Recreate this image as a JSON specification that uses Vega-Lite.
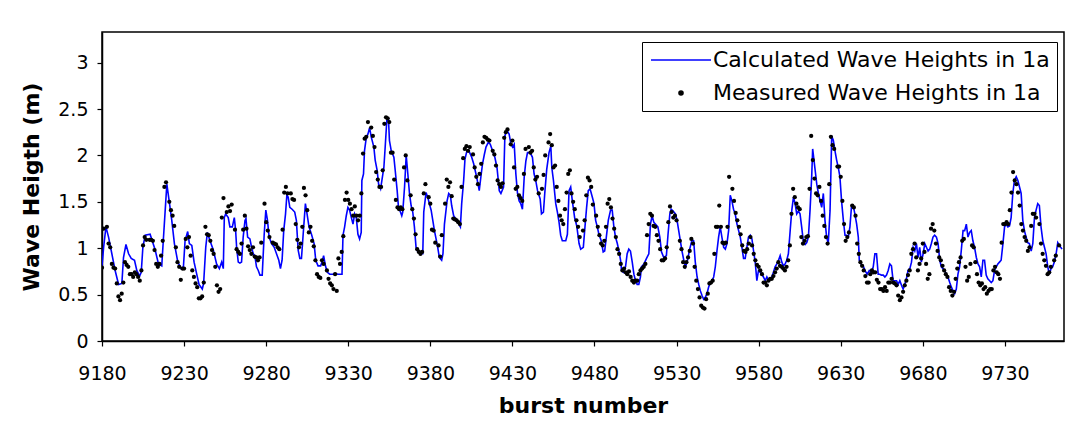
{
"$schema": "https://vega.github.io/schema/vega-lite/v6.json",
"autosize": {"type": "none"},
"padding": {"left": 102, "top": 32, "right": 19, "bottom": 86},
"width": 962,
"height": 309,
"background": "white",
"datasets": {
"calculated": [
{"burst":9180,"height":0.81},{"burst":9181,"height":1.01},{"burst":9182.4,"height":1.23},{"burst":9184,"height":1.12},{"burst":9186,"height":0.94},{"burst":9188,"height":0.76},{"burst":9190.1,"height":0.61},{"burst":9192.1,"height":0.62},{"burst":9193.1,"height":0.9},{"burst":9194.6,"height":1.04},{"burst":9196.2,"height":0.94},{"burst":9197.8,"height":0.89},{"burst":9199.8,"height":0.87},{"burst":9201.2,"height":0.76},{"burst":9202.9,"height":0.7},{"burst":9203.9,"height":0.74},{"burst":9204.9,"height":1.01},{"burst":9206.3,"height":1.14},{"burst":9209.3,"height":1.15},{"burst":9212.4,"height":0.98},{"burst":9214.4,"height":0.83},{"burst":9216.4,"height":0.81},{"burst":9217.4,"height":1.1},{"burst":9218.5,"height":1.41},{"burst":9219.5,"height":1.69},{"burst":9220.9,"height":1.51},{"burst":9222.5,"height":1.3},{"burst":9224.1,"height":1.05},{"burst":9226.2,"height":0.85},{"burst":9228.2,"height":0.78},{"burst":9229.6,"height":0.8},{"burst":9230.6,"height":1.08},{"burst":9232.2,"height":1.18},{"burst":9233.2,"height":1.05},{"burst":9234.7,"height":1.03},{"burst":9236.1,"height":0.85},{"burst":9237.7,"height":0.72},{"burst":9239.1,"height":0.61},{"burst":9241.1,"height":0.56},{"burst":9241.9,"height":0.62},{"burst":9243.2,"height":1.01},{"burst":9244.2,"height":1.17},{"burst":9245.8,"height":1.08},{"burst":9247.8,"height":0.98},{"burst":9249.8,"height":0.83},{"burst":9251.5,"height":0.78},{"burst":9252.9,"height":0.85},{"burst":9253.9,"height":0.78},{"burst":9254.5,"height":1.33},{"burst":9255.3,"height":1.37},{"burst":9256.9,"height":1.33},{"burst":9257.9,"height":1.23},{"burst":9259.4,"height":1.23},{"burst":9260.6,"height":1.33},{"burst":9261.4,"height":1.19},{"burst":9262,"height":1.01},{"burst":9263,"height":0.85},{"burst":9264,"height":0.84},{"burst":9265,"height":0.85},{"burst":9266,"height":1.12},{"burst":9267.1,"height":1.3},{"burst":9267.7,"height":1.32},{"burst":9268.7,"height":1.12},{"burst":9270.1,"height":1.1},{"burst":9271.1,"height":1.01},{"burst":9272.1,"height":0.94},{"burst":9273.1,"height":0.92},{"burst":9274.1,"height":0.8},{"burst":9275.2,"height":0.76},{"burst":9276.2,"height":0.71},{"burst":9277.6,"height":0.71},{"burst":9278.8,"height":1.15},{"burst":9279.8,"height":1.41},{"burst":9280.8,"height":1.3},{"burst":9281.8,"height":1.12},{"burst":9283.3,"height":1.05},{"burst":9284.9,"height":1.01},{"burst":9286.3,"height":0.94},{"burst":9287.7,"height":0.87},{"burst":9288.7,"height":0.78},{"burst":9289.7,"height":0.87},{"burst":9290.7,"height":1.19},{"burst":9291.8,"height":1.37},{"burst":9292.6,"height":1.57},{"burst":9293.4,"height":1.55},{"burst":9294.4,"height":1.44},{"burst":9295.8,"height":1.42},{"burst":9297.4,"height":1.39},{"burst":9298.4,"height":1.3},{"burst":9299.5,"height":0.98},{"burst":9300.5,"height":0.89},{"burst":9301.5,"height":0.89},{"burst":9302.5,"height":1.14},{"burst":9303.9,"height":1.48},{"burst":9304.9,"height":1.37},{"burst":9306.1,"height":1.23},{"burst":9307.6,"height":1.15},{"burst":9309.2,"height":1.05},{"burst":9310.2,"height":0.87},{"burst":9311.6,"height":0.81},{"burst":9313.2,"height":0.81},{"burst":9314,"height":0.85},{"burst":9315,"height":0.92},{"burst":9316.1,"height":0.81},{"burst":9317.3,"height":0.74},{"burst":9318.7,"height":0.72},{"burst":9320.7,"height":0.72},{"burst":9321.7,"height":0.73},{"burst":9323.8,"height":0.72},{"burst":9326.2,"height":0.72},{"burst":9326.8,"height":1.14},{"burst":9327.8,"height":1.23},{"burst":9328.8,"height":1.35},{"burst":9329.8,"height":1.44},{"burst":9330.8,"height":1.41},{"burst":9331.9,"height":1.33},{"burst":9332.9,"height":1.26},{"burst":9333.9,"height":1.37},{"burst":9334.9,"height":1.33},{"burst":9335.9,"height":1.15},{"burst":9336.9,"height":1.1},{"burst":9337.9,"height":1.17},{"burst":9338.3,"height":1.73},{"burst":9339.3,"height":1.8},{"burst":9339.9,"height":2.05},{"burst":9340.9,"height":2.18},{"burst":9342,"height":2.23},{"burst":9343,"height":2.3},{"burst":9344,"height":2.2},{"burst":9345.6,"height":2.09},{"burst":9346.4,"height":1.95},{"burst":9347.6,"height":1.84},{"burst":9348.5,"height":1.69},{"burst":9349.7,"height":1.64},{"burst":9350.5,"height":1.73},{"burst":9351.7,"height":1.87},{"burst":9352.5,"height":2.09},{"burst":9353.5,"height":2.38},{"burst":9354.5,"height":2.39},{"burst":9355.1,"height":2.16},{"burst":9356.2,"height":2.05},{"burst":9357.8,"height":1.98},{"burst":9358.6,"height":1.84},{"burst":9359.8,"height":1.62},{"burst":9360.6,"height":1.44},{"burst":9361.8,"height":1.39},{"burst":9362.6,"height":1.35},{"burst":9363.2,"height":1.39},{"burst":9364.3,"height":1.66},{"burst":9365.3,"height":2.0},{"burst":9366.3,"height":1.8},{"burst":9367.3,"height":1.59},{"burst":9368.3,"height":1.46},{"burst":9369.3,"height":1.39},{"burst":9370.3,"height":1.23},{"burst":9371.3,"height":1.01},{"burst":9372.4,"height":0.96},{"burst":9374.4,"height":0.94},{"burst":9375.4,"height":0.94},{"burst":9376,"height":1.39},{"burst":9377.4,"height":1.6},{"burst":9378.4,"height":1.55},{"burst":9379.4,"height":1.48},{"burst":9380.5,"height":1.41},{"burst":9381.5,"height":1.3},{"burst":9382.5,"height":1.19},{"burst":9383.5,"height":1.1},{"burst":9384.5,"height":1.01},{"burst":9385.5,"height":0.9},{"burst":9386.9,"height":0.87},{"burst":9387.7,"height":0.94},{"burst":9388.6,"height":1.26},{"burst":9390.2,"height":1.51},{"burst":9391.2,"height":1.59},{"burst":9392.2,"height":1.57},{"burst":9393,"height":1.46},{"burst":9394.2,"height":1.35},{"burst":9396.2,"height":1.3},{"burst":9398.3,"height":1.23},{"burst":9399.1,"height":1.48},{"burst":9400.3,"height":1.73},{"burst":9401.1,"height":1.96},{"burst":9402.3,"height":2.05},{"burst":9403.7,"height":2.04},{"burst":9405.2,"height":1.98},{"burst":9406.4,"height":1.91},{"burst":9407.8,"height":1.8},{"burst":9409.2,"height":1.68},{"burst":9409.8,"height":1.62},{"burst":9410.8,"height":1.77},{"burst":9411.8,"height":1.91},{"burst":9412.9,"height":2.01},{"burst":9413.9,"height":2.09},{"burst":9415.3,"height":2.14},{"burst":9416.5,"height":2.12},{"burst":9417.9,"height":2.05},{"burst":9419.3,"height":1.98},{"burst":9420.6,"height":1.87},{"burst":9421.4,"height":1.73},{"burst":9422,"height":1.62},{"burst":9423,"height":1.59},{"burst":9424.6,"height":1.66},{"burst":9425.4,"height":2.21},{"burst":9426.6,"height":2.27},{"burst":9428,"height":2.23},{"burst":9429.1,"height":2.12},{"burst":9430.1,"height":2.09},{"burst":9431.1,"height":2.12},{"burst":9432.1,"height":1.8},{"burst":9433.1,"height":1.59},{"burst":9434.1,"height":1.51},{"burst":9435.1,"height":1.48},{"burst":9436.1,"height":1.42},{"burst":9437.2,"height":1.77},{"burst":9438.2,"height":1.94},{"burst":9439.2,"height":2.03},{"burst":9440.8,"height":2.03},{"burst":9442.2,"height":1.98},{"burst":9443.2,"height":1.8},{"burst":9444.2,"height":1.73},{"burst":9445.3,"height":1.62},{"burst":9446.9,"height":1.53},{"burst":9447.7,"height":1.37},{"burst":9448.9,"height":1.39},{"burst":9449.7,"height":1.59},{"burst":9450.9,"height":1.85},{"burst":9452.3,"height":2.03},{"burst":9453.4,"height":2.1},{"burst":9454,"height":1.87},{"burst":9455,"height":1.73},{"burst":9456.4,"height":1.48},{"burst":9457.4,"height":1.39},{"burst":9458.4,"height":1.28},{"burst":9459.4,"height":1.14},{"burst":9460.4,"height":1.08},{"burst":9462.5,"height":1.08},{"burst":9463.5,"height":1.15},{"burst":9464.5,"height":1.62},{"burst":9465.5,"height":1.66},{"burst":9466.5,"height":1.51},{"burst":9467.9,"height":1.33},{"burst":9469.2,"height":1.24},{"burst":9470.6,"height":1.05},{"burst":9471.6,"height":0.99},{"burst":9473.2,"height":1.01},{"burst":9474.2,"height":1.23},{"burst":9475.2,"height":1.44},{"burst":9476.2,"height":1.62},{"burst":9477.3,"height":1.64},{"burst":9478.7,"height":1.55},{"burst":9479.7,"height":1.48},{"burst":9480.7,"height":1.3},{"burst":9481.7,"height":1.23},{"burst":9482.7,"height":1.15},{"burst":9484.1,"height":1.08},{"burst":9485.3,"height":0.96},{"burst":9486.2,"height":0.97},{"burst":9487.2,"height":1.12},{"burst":9488.4,"height":1.3},{"burst":9489.8,"height":1.41},{"burst":9490.8,"height":1.41},{"burst":9491.8,"height":1.23},{"burst":9492.8,"height":1.12},{"burst":9493.9,"height":1.05},{"burst":9494.9,"height":0.97},{"burst":9495.9,"height":0.87},{"burst":9496.5,"height":0.76},{"burst":9497.5,"height":0.74},{"burst":9498.9,"height":0.8},{"burst":9499.9,"height":0.94},{"burst":9500.9,"height":0.99},{"burst":9501.9,"height":0.97},{"burst":9503,"height":0.85},{"burst":9504,"height":0.72},{"burst":9505,"height":0.65},{"burst":9506,"height":0.61},{"burst":9507,"height":0.61},{"burst":9508,"height":0.69},{"burst":9508.6,"height":0.8},{"burst":9510.1,"height":0.83},{"burst":9511.7,"height":0.89},{"burst":9513.1,"height":0.94},{"burst":9514.1,"height":1.26},{"burst":9515.1,"height":1.35},{"burst":9516.1,"height":1.28},{"burst":9517.1,"height":1.26},{"burst":9518.6,"height":1.23},{"burst":9519.8,"height":1.12},{"burst":9520.8,"height":0.96},{"burst":9522.2,"height":0.9},{"burst":9523.8,"height":0.92},{"burst":9524.8,"height":1.15},{"burst":9525.9,"height":1.37},{"burst":9526.7,"height":1.42},{"burst":9527.9,"height":1.4},{"burst":9529.3,"height":1.37},{"burst":9530.3,"height":1.3},{"burst":9531.3,"height":1.19},{"burst":9532.3,"height":1.08},{"burst":9533.3,"height":0.97},{"burst":9534.4,"height":0.87},{"burst":9535.4,"height":0.8},{"burst":9536.4,"height":0.85},{"burst":9538,"height":0.99},{"burst":9539.4,"height":1.09},{"burst":9540.4,"height":1.08},{"burst":9541.4,"height":0.85},{"burst":9542.5,"height":0.69},{"burst":9543.5,"height":0.61},{"burst":9544.5,"height":0.54},{"burst":9545.5,"height":0.49},{"burst":9546.5,"height":0.45},{"burst":9547.5,"height":0.47},{"burst":9548.5,"height":0.51},{"burst":9549.5,"height":0.58},{"burst":9550.6,"height":0.63},{"burst":9551.6,"height":0.65},{"burst":9552.6,"height":0.69},{"burst":9553.6,"height":0.8},{"burst":9554.6,"height":0.97},{"burst":9555.6,"height":1.12},{"burst":9556.6,"height":1.23},{"burst":9557.6,"height":1.12},{"burst":9558.7,"height":1.01},{"burst":9559.7,"height":0.99},{"burst":9560.7,"height":1.05},{"burst":9561.7,"height":1.19},{"burst":9562.7,"height":1.57},{"burst":9563.7,"height":1.51},{"burst":9564.7,"height":1.42},{"burst":9565.7,"height":1.37},{"burst":9566.8,"height":1.26},{"burst":9567.8,"height":1.19},{"burst":9568.8,"height":1.12},{"burst":9569.8,"height":1.01},{"burst":9570.8,"height":0.89},{"burst":9571.8,"height":0.89},{"burst":9572.8,"height":1.01},{"burst":9573.8,"height":1.12},{"burst":9574.9,"height":1.14},{"burst":9575.9,"height":1.1},{"burst":9576.9,"height":0.97},{"burst":9577.9,"height":0.85},{"burst":9578.9,"height":0.65},{"burst":9579.9,"height":0.76},{"burst":9580.9,"height":0.74},{"burst":9581.9,"height":0.72},{"burst":9582.9,"height":0.69},{"burst":9584,"height":0.65},{"burst":9585,"height":0.69},{"burst":9586,"height":0.65},{"burst":9587,"height":0.67},{"burst":9588,"height":0.69},{"burst":9589,"height":0.74},{"burst":9590,"height":0.8},{"burst":9591.1,"height":0.83},{"burst":9592.1,"height":0.87},{"burst":9593.1,"height":0.92},{"burst":9594.1,"height":0.85},{"burst":9595.1,"height":0.81},{"burst":9596.1,"height":0.83},{"burst":9597.1,"height":0.87},{"burst":9598.1,"height":0.94},{"burst":9599.2,"height":1.19},{"burst":9600.2,"height":1.41},{"burst":9601.2,"height":1.55},{"burst":9602.2,"height":1.48},{"burst":9603.2,"height":1.37},{"burst":9604.2,"height":1.4},{"burst":9605.2,"height":1.37},{"burst":9606.2,"height":1.23},{"burst":9607.3,"height":1.06},{"burst":9608.3,"height":1.04},{"burst":9609.3,"height":1.06},{"burst":9610.3,"height":1.12},{"burst":9611.3,"height":1.41},{"burst":9612.3,"height":1.77},{"burst":9612.9,"height":2.07},{"burst":9613.7,"height":1.95},{"burst":9615.4,"height":1.69},{"burst":9616.4,"height":1.59},{"burst":9617.4,"height":1.51},{"burst":9618.4,"height":1.44},{"burst":9619.4,"height":1.59},{"burst":9620.4,"height":1.3},{"burst":9621.4,"height":1.12},{"burst":9622.4,"height":1.05},{"burst":9623.5,"height":1.41},{"burst":9624.5,"height":2.21},{"burst":9625.5,"height":2.16},{"burst":9626.5,"height":2.05},{"burst":9627.5,"height":1.95},{"burst":9628.5,"height":1.87},{"burst":9629.5,"height":1.77},{"burst":9630.5,"height":1.51},{"burst":9631.6,"height":1.3},{"burst":9632.6,"height":1.14},{"burst":9633.6,"height":1.14},{"burst":9634.6,"height":1.12},{"burst":9635.6,"height":1.23},{"burst":9636.6,"height":1.46},{"burst":9637.6,"height":1.46},{"burst":9638.6,"height":1.37},{"burst":9639.7,"height":1.26},{"burst":9640.7,"height":1.12},{"burst":9641.3,"height":0.87},{"burst":9642.3,"height":0.83},{"burst":9643.7,"height":0.81},{"burst":9644.7,"height":0.76},{"burst":9646.1,"height":0.72},{"burst":9647.4,"height":0.76},{"burst":9648.8,"height":0.74},{"burst":9649.8,"height":0.8},{"burst":9650.8,"height":0.94},{"burst":9651.8,"height":0.94},{"burst":9652.8,"height":0.72},{"burst":9653.8,"height":0.72},{"burst":9654.8,"height":0.71},{"burst":9655.9,"height":0.71},{"burst":9656.9,"height":0.69},{"burst":9657.9,"height":0.71},{"burst":9658.9,"height":0.76},{"burst":9659.9,"height":0.83},{"burst":9660.9,"height":0.81},{"burst":9661.9,"height":0.65},{"burst":9662.9,"height":0.65},{"burst":9664,"height":0.65},{"burst":9665,"height":0.61},{"burst":9666,"height":0.65},{"burst":9667,"height":0.6},{"burst":9668,"height":0.56},{"burst":9669,"height":0.61},{"burst":9670,"height":0.67},{"burst":9671,"height":0.76},{"burst":9672.1,"height":0.78},{"burst":9673.1,"height":0.85},{"burst":9674.1,"height":1.01},{"burst":9675.1,"height":0.97},{"burst":9676.1,"height":1.05},{"burst":9677.1,"height":0.9},{"burst":9678.1,"height":1.01},{"burst":9679.1,"height":0.85},{"burst":9680.2,"height":0.94},{"burst":9681.2,"height":1.05},{"burst":9682.2,"height":1.01},{"burst":9683.2,"height":0.97},{"burst":9684.2,"height":0.99},{"burst":9685.2,"height":1.05},{"burst":9686.2,"height":1.12},{"burst":9687.2,"height":1.14},{"burst":9688.3,"height":1.12},{"burst":9689.3,"height":1.05},{"burst":9690.3,"height":0.87},{"burst":9691.3,"height":0.8},{"burst":9692.3,"height":0.78},{"burst":9693.3,"height":0.76},{"burst":9694.3,"height":0.72},{"burst":9695.3,"height":0.69},{"burst":9696.4,"height":0.63},{"burst":9697.4,"height":0.58},{"burst":9698.4,"height":0.54},{"burst":9699.4,"height":0.51},{"burst":9700.4,"height":0.56},{"burst":9701.4,"height":0.72},{"burst":9702.4,"height":0.8},{"burst":9703.4,"height":0.97},{"burst":9704.5,"height":1.19},{"burst":9705.5,"height":1.19},{"burst":9706.5,"height":1.26},{"burst":9707.5,"height":1.12},{"burst":9708.5,"height":1.17},{"burst":9709.5,"height":1.19},{"burst":9710.5,"height":1.08},{"burst":9711.5,"height":1.01},{"burst":9712.6,"height":0.9},{"burst":9713.6,"height":0.83},{"burst":9714.6,"height":0.8},{"burst":9715.6,"height":0.69},{"burst":9716.6,"height":0.87},{"burst":9717.6,"height":0.87},{"burst":9718.6,"height":0.71},{"burst":9719.6,"height":0.67},{"burst":9720.7,"height":0.65},{"burst":9721.7,"height":0.63},{"burst":9722.7,"height":0.65},{"burst":9723.7,"height":0.76},{"burst":9724.7,"height":0.8},{"burst":9725.7,"height":0.83},{"burst":9726.7,"height":0.85},{"burst":9727.7,"height":0.87},{"burst":9728.8,"height":1.05},{"burst":9729.8,"height":1.23},{"burst":9730.8,"height":1.26},{"burst":9731.8,"height":1.23},{"burst":9732.8,"height":1.24},{"burst":9733.8,"height":1.33},{"burst":9734.8,"height":1.59},{"burst":9735.8,"height":1.73},{"burst":9736.9,"height":1.77},{"burst":9737.9,"height":1.73},{"burst":9738.9,"height":1.66},{"burst":9739.9,"height":1.59},{"burst":9740.9,"height":1.3},{"burst":9741.9,"height":1.19},{"burst":9742.9,"height":1.12},{"burst":9743.9,"height":1.06},{"burst":9744.9,"height":1.05},{"burst":9746,"height":0.97},{"burst":9747,"height":1.05},{"burst":9748,"height":1.33},{"burst":9749,"height":1.41},{"burst":9750,"height":1.48},{"burst":9751,"height":1.46},{"burst":9752,"height":1.23},{"burst":9753.1,"height":1.08},{"burst":9754.1,"height":1.01},{"burst":9755.1,"height":0.94},{"burst":9756.1,"height":0.8},{"burst":9757.1,"height":0.72},{"burst":9758.1,"height":0.78},{"burst":9759.1,"height":0.8},{"burst":9760.1,"height":0.85},{"burst":9761.2,"height":0.94},{"burst":9762.2,"height":1.06},{"burst":9763.2,"height":1.03},{"burst":9764.8,"height":0.99}
],
"measured": [
{"burst":9180,"height":0.79},{"burst":9181,"height":1.21},{"burst":9183,"height":1.23},{"burst":9184,"height":1.05},{"burst":9185,"height":1.01},{"burst":9186,"height":0.83},{"burst":9187,"height":0.79},{"burst":9188,"height":0.78},{"burst":9189,"height":0.62},{"burst":9190,"height":0.48},{"burst":9191,"height":0.44},{"burst":9192,"height":0.51},{"burst":9193,"height":0.63},{"burst":9194,"height":0.85},{"burst":9195,"height":0.82},{"burst":9196,"height":0.8},{"burst":9197,"height":0.72},{"burst":9198,"height":0.72},{"burst":9199,"height":0.69},{"burst":9200,"height":0.74},{"burst":9201,"height":0.72},{"burst":9202,"height":0.69},{"burst":9203,"height":0.65},{"burst":9204,"height":0.76},{"burst":9205,"height":1.03},{"burst":9206,"height":1.12},{"burst":9207,"height":1.09},{"burst":9209,"height":1.09},{"burst":9210,"height":1.09},{"burst":9211,"height":1.08},{"burst":9212,"height":0.98},{"burst":9213,"height":0.83},{"burst":9214,"height":0.8},{"burst":9215,"height":0.83},{"burst":9216,"height":0.92},{"burst":9217,"height":1.08},{"burst":9218,"height":1.66},{"burst":9219,"height":1.71},{"burst":9221,"height":1.5},{"burst":9222,"height":1.41},{"burst":9223,"height":1.35},{"burst":9224,"height":1.24},{"burst":9225,"height":1.01},{"burst":9226,"height":0.85},{"burst":9227,"height":0.8},{"burst":9228,"height":0.66},{"burst":9229,"height":0.78},{"burst":9230,"height":0.78},{"burst":9231,"height":1.1},{"burst":9232,"height":1.01},{"burst":9233,"height":1.12},{"burst":9234,"height":0.92},{"burst":9235,"height":0.76},{"burst":9236,"height":0.69},{"burst":9237,"height":0.62},{"burst":9238,"height":0.58},{"burst":9239,"height":0.46},{"burst":9240,"height":0.46},{"burst":9241,"height":0.48},{"burst":9242,"height":0.63},{"burst":9243,"height":1.23},{"burst":9244,"height":1.15},{"burst":9245,"height":1.14},{"burst":9246,"height":1.08},{"burst":9247,"height":0.98},{"burst":9248,"height":0.94},{"burst":9249,"height":0.8},{"burst":9250,"height":0.6},{"burst":9251,"height":0.53},
{"burst":9252,"height":0.56},{"burst":9253,"height":1.33},{"burst":9254,"height":1.54},{"burst":9256,"height":1.39},{"burst":9257,"height":1.45},{"burst":9258,"height":1.4},{"burst":9259,"height":1.47},{"burst":9261,"height":1.2},{"burst":9262,"height":0.99},{"burst":9263,"height":0.96},{"burst":9264,"height":0.94},{"burst":9265,"height":1.05},{"burst":9266,"height":1.2},{"burst":9267,"height":1.35},{"burst":9268,"height":1.21},{"burst":9269,"height":1.02},{"burst":9270,"height":0.98},{"burst":9271,"height":0.94},{"burst":9272,"height":1.01},{"burst":9273,"height":0.91},{"burst":9274,"height":0.9},{"burst":9275,"height":0.87},{"burst":9276,"height":0.9},{"burst":9277,"height":1.06},{"burst":9279,"height":1.48},{"burst":9280,"height":1.28},{"burst":9281,"height":1.19},{"burst":9282,"height":1.12},{"burst":9284,"height":1.06},{"burst":9285,"height":1.05},{"burst":9286,"height":1.04},{"burst":9287,"height":1.01},{"burst":9288,"height":0.99},{"burst":9290,"height":1.2},{"burst":9291,"height":1.6},{"burst":9292,"height":1.66},{"burst":9293,"height":1.59},{"burst":9295,"height":1.59},{"burst":9296,"height":1.53},{"burst":9297,"height":1.52},{"burst":9298,"height":1.26},{"burst":9299,"height":1.09},{"burst":9300,"height":1.01},{"burst":9301,"height":1.05},{"burst":9302,"height":1.23},{"burst":9303,"height":1.65},{"burst":9304,"height":1.57},{"burst":9305,"height":1.41},{"burst":9306,"height":1.17},{"burst":9307,"height":1.23},{"burst":9308,"height":1.08},{"burst":9309,"height":1.02},{"burst":9310,"height":0.87},{"burst":9311,"height":0.72},{"burst":9312,"height":0.69},{"burst":9313,"height":0.68},{"burst":9314,"height":0.87},{"burst":9315,"height":0.83},{"burst":9317,"height":0.76},{"burst":9318,"height":0.67},{"burst":9319,"height":0.62},{"burst":9320,"height":0.6},{"burst":9321,"height":0.56},
{"burst":9322,"height":0.72},{"burst":9323,"height":0.54},{"burst":9324,"height":0.89},{"burst":9325,"height":0.83},{"burst":9326,"height":0.96},{"burst":9327,"height":1.13},{"burst":9328,"height":1.52},{"burst":9329,"height":1.6},{"burst":9330,"height":1.52},{"burst":9331,"height":1.48},{"burst":9332,"height":1.42},{"burst":9333,"height":1.35},{"burst":9334,"height":1.45},{"burst":9335,"height":1.35},{"burst":9336,"height":1.3},{"burst":9337,"height":1.35},{"burst":9338,"height":1.59},{"burst":9339,"height":2.02},{"burst":9340,"height":2.18},{"burst":9341,"height":2.2},{"burst":9342,"height":2.36},{"burst":9344,"height":2.3},{"burst":9345,"height":2.21},{"burst":9346,"height":2.09},{"burst":9347,"height":1.82},{"burst":9348,"height":1.74},{"burst":9349,"height":1.66},{"burst":9350,"height":1.66},{"burst":9351,"height":1.84},{"burst":9352,"height":2.34},{"burst":9353,"height":2.41},{"burst":9354,"height":2.4},{"burst":9355,"height":2.36},{"burst":9356,"height":2.03},{"burst":9357,"height":2.03},{"burst":9358,"height":1.74},{"burst":9359,"height":1.52},{"burst":9360,"height":1.44},{"burst":9361,"height":1.42},{"burst":9362,"height":1.44},{"burst":9363,"height":1.42},{"burst":9364,"height":1.87},{"burst":9365,"height":2.0},{"burst":9366,"height":1.73},{"burst":9368,"height":1.57},{"burst":9369,"height":1.42},{"burst":9370,"height":1.32},{"burst":9371,"height":1.15},{"burst":9372,"height":0.99},{"burst":9373,"height":0.96},{"burst":9374,"height":0.94},{"burst":9375,"height":0.96},{"burst":9376,"height":1.59},{"burst":9377,"height":1.69},{"burst":9379,"height":1.55},{"burst":9380,"height":1.48},{"burst":9381,"height":1.2},{"burst":9382,"height":1.19},{"burst":9383,"height":1.06},{"burst":9385,"height":1.03},{"burst":9386,"height":0.91},{"burst":9387,"height":1.14},{"burst":9389,"height":1.48},{"burst":9390,"height":1.74},{"burst":9391,"height":1.66},{"burst":9392,"height":1.71},{"burst":9393,"height":1.56},{"burst":9394,"height":1.32},{"burst":9395,"height":1.31},{"burst":9396,"height":1.3},{"burst":9397,"height":1.28},
{"burst":9398,"height":1.26},{"burst":9399,"height":1.66},{"burst":9400,"height":1.97},{"burst":9401,"height":2.07},{"burst":9402,"height":2.1},{"burst":9403,"height":2.05},{"burst":9404,"height":2.09},{"burst":9406,"height":2.01},{"burst":9407,"height":1.87},{"burst":9408,"height":1.77},{"burst":9409,"height":1.69},{"burst":9410,"height":1.8},{"burst":9411,"height":1.91},{"burst":9412,"height":2.14},{"burst":9413,"height":2.2},{"burst":9414,"height":2.19},{"burst":9415,"height":2.17},{"burst":9416,"height":2.16},{"burst":9418,"height":2.05},{"burst":9419,"height":2.01},{"burst":9420,"height":1.89},{"burst":9421,"height":1.73},{"burst":9422,"height":1.69},{"burst":9423,"height":1.66},{"burst":9424,"height":1.7},{"burst":9425,"height":2.19},{"burst":9426,"height":2.25},{"burst":9427,"height":2.28},{"burst":9429,"height":2.12},{"burst":9430,"height":2.16},{"burst":9431,"height":1.87},{"burst":9432,"height":1.64},{"burst":9433,"height":1.66},{"burst":9434,"height":1.57},{"burst":9435,"height":1.54},{"burst":9436,"height":1.51},{"burst":9437,"height":1.8},{"burst":9438,"height":2.07},{"burst":9440,"height":2.09},{"burst":9441,"height":2.03},{"burst":9442,"height":2.05},{"burst":9443,"height":1.87},{"burst":9444,"height":1.74},{"burst":9445,"height":1.77},{"burst":9446,"height":1.59},{"burst":9448,"height":1.64},{"burst":9449,"height":1.79},{"burst":9450,"height":2.0},{"burst":9452,"height":2.14},{"burst":9453,"height":2.23},{"burst":9454,"height":2.11},{"burst":9455,"height":1.87},{"burst":9456,"height":1.89},{"burst":9457,"height":1.66},{"burst":9458,"height":1.51},{"burst":9459,"height":1.35},{"burst":9460,"height":1.3},{"burst":9461,"height":1.26},{"burst":9462,"height":1.42},{"burst":9463,"height":1.6},{"burst":9464,"height":1.8},{"burst":9465,"height":1.84},{"burst":9466,"height":1.59},{"burst":9467,"height":1.5},{"burst":9468,"height":1.42},{"burst":9469,"height":1.3},
{"burst":9470,"height":1.23},{"burst":9471,"height":1.12},{"burst":9473,"height":1.19},{"burst":9474,"height":1.3},{"burst":9475,"height":1.57},{"burst":9476,"height":1.76},{"burst":9477,"height":1.73},{"burst":9478,"height":1.66},{"burst":9479,"height":1.47},{"burst":9481,"height":1.35},{"burst":9482,"height":1.23},{"burst":9483,"height":1.14},{"burst":9484,"height":1.05},{"burst":9485,"height":1.03},{"burst":9486,"height":1.08},{"burst":9487,"height":1.23},{"burst":9488,"height":1.48},{"burst":9489,"height":1.53},{"burst":9490,"height":1.44},{"burst":9491,"height":1.32},{"burst":9492,"height":1.21},{"burst":9493,"height":1.12},{"burst":9494,"height":0.99},{"burst":9495,"height":0.94},{"burst":9496,"height":0.83},{"burst":9497,"height":0.76},{"burst":9498,"height":0.78},{"burst":9499,"height":0.74},{"burst":9500,"height":0.72},{"burst":9501,"height":0.75},{"burst":9502,"height":0.69},{"burst":9503,"height":0.65},{"burst":9504,"height":0.63},{"burst":9505,"height":0.65},{"burst":9506,"height":0.65},{"burst":9507,"height":0.72},{"burst":9508,"height":0.76},{"burst":9509,"height":0.78},{"burst":9510,"height":0.8},{"burst":9511,"height":0.83},{"burst":9512,"height":1.14},{"burst":9513,"height":1.26},{"burst":9514,"height":1.37},{"burst":9515,"height":1.35},{"burst":9516,"height":1.24},{"burst":9517,"height":1.23},{"burst":9518,"height":1.14},{"burst":9519,"height":1.08},{"burst":9520,"height":0.99},{"burst":9521,"height":0.87},{"burst":9522,"height":0.87},{"burst":9523,"height":0.89},{"burst":9524,"height":1.01},{"burst":9525,"height":1.28},{"burst":9526,"height":1.45},{"burst":9527,"height":1.39},{"burst":9528,"height":1.33},{"burst":9529,"height":1.35},{"burst":9530,"height":1.3},{"burst":9532,"height":1.08},{"burst":9533,"height":0.99},{"burst":9534,"height":0.85},{"burst":9535,"height":0.8},{"burst":9536,"height":0.85},{"burst":9537,"height":0.9},{"burst":9538,"height":0.97},{"burst":9539,"height":1.1},{"burst":9540,"height":1.05},
{"burst":9541,"height":0.8},{"burst":9542,"height":0.65},{"burst":9543,"height":0.56},{"burst":9544,"height":0.47},{"burst":9545,"height":0.38},{"burst":9546,"height":0.36},{"burst":9547,"height":0.35},{"burst":9548,"height":0.45},{"burst":9549,"height":0.51},{"burst":9550,"height":0.62},{"burst":9551,"height":0.63},{"burst":9552,"height":0.65},{"burst":9553,"height":0.94},{"burst":9554,"height":1.23},{"burst":9555,"height":1.23},{"burst":9556,"height":1.46},{"burst":9557,"height":1.23},{"burst":9558,"height":1.06},{"burst":9559,"height":1.05},{"burst":9560,"height":1.06},{"burst":9561,"height":1.23},{"burst":9562,"height":1.77},{"burst":9564,"height":1.64},{"burst":9565,"height":1.51},{"burst":9566,"height":1.38},{"burst":9567,"height":1.3},{"burst":9568,"height":1.23},{"burst":9569,"height":1.15},{"burst":9570,"height":1.03},{"burst":9571,"height":0.97},{"burst":9572,"height":0.96},{"burst":9573,"height":0.99},{"burst":9574,"height":1.05},{"burst":9575,"height":1.12},{"burst":9576,"height":1.03},{"burst":9577,"height":0.94},{"burst":9578,"height":0.87},{"burst":9579,"height":0.82},{"burst":9580,"height":0.8},{"burst":9581,"height":0.76},{"burst":9582,"height":0.72},{"burst":9583,"height":0.63},{"burst":9584,"height":0.63},{"burst":9585,"height":0.6},{"burst":9586,"height":0.65},{"burst":9587,"height":0.67},{"burst":9588,"height":0.67},{"burst":9589,"height":0.7},{"burst":9590,"height":0.74},{"burst":9591,"height":0.78},{"burst":9592,"height":0.85},{"burst":9593,"height":0.81},{"burst":9594,"height":0.8},{"burst":9595,"height":0.78},{"burst":9596,"height":0.76},{"burst":9597,"height":0.8},{"burst":9598,"height":0.87},{"burst":9599,"height":1.03},{"burst":9600,"height":1.37},{"burst":9601,"height":1.64},{"burst":9602,"height":1.55},{"burst":9603,"height":1.48},{"burst":9604,"height":1.44},{"burst":9605,"height":1.42},{"burst":9606,"height":1.12},{"burst":9607,"height":1.05},{"burst":9608,"height":1.08},{"burst":9609,"height":1.12},{"burst":9610,"height":1.13},{"burst":9611,"height":1.64},{"burst":9612,"height":2.21},{"burst":9613,"height":1.95},{"burst":9614,"height":1.75},{"burst":9615,"height":1.59},
{"burst":9616,"height":1.57},{"burst":9617,"height":1.66},{"burst":9618,"height":1.51},{"burst":9619,"height":1.35},{"burst":9620,"height":1.24},{"burst":9621,"height":1.12},{"burst":9622,"height":1.05},{"burst":9623,"height":1.69},{"burst":9624,"height":2.2},{"burst":9625,"height":2.11},{"burst":9626,"height":2.07},{"burst":9628,"height":1.88},{"burst":9629,"height":1.88},{"burst":9630,"height":1.77},{"burst":9631,"height":1.51},{"burst":9632,"height":1.26},{"burst":9633,"height":1.08},{"burst":9634,"height":1.12},{"burst":9635,"height":1.17},{"burst":9637,"height":1.46},{"burst":9638,"height":1.44},{"burst":9639,"height":1.35},{"burst":9640,"height":1.05},{"burst":9641,"height":0.94},{"burst":9642,"height":0.85},{"burst":9643,"height":0.81},{"burst":9644,"height":0.76},{"burst":9645,"height":0.7},{"burst":9646,"height":0.63},{"burst":9647,"height":0.63},{"burst":9648,"height":0.72},{"burst":9649,"height":0.76},{"burst":9650,"height":0.74},{"burst":9651,"height":0.74},{"burst":9652,"height":0.66},{"burst":9653,"height":0.63},{"burst":9654,"height":0.56},{"burst":9655,"height":0.56},{"burst":9656,"height":0.54},{"burst":9657,"height":0.58},{"burst":9658,"height":0.54},{"burst":9659,"height":0.63},{"burst":9660,"height":0.63},{"burst":9661,"height":0.67},{"burst":9662,"height":0.63},{"burst":9663,"height":0.62},{"burst":9664,"height":0.6},{"burst":9665,"height":0.49},{"burst":9666,"height":0.44},{"burst":9667,"height":0.47},{"burst":9668,"height":0.53},{"burst":9669,"height":0.6},{"burst":9670,"height":0.65},{"burst":9671,"height":0.71},{"burst":9672,"height":0.76},{"burst":9673,"height":0.94},{"burst":9674,"height":0.99},{"burst":9675,"height":1.05},{"burst":9676,"height":0.9},{"burst":9677,"height":0.76},{"burst":9678,"height":0.83},{"burst":9679,"height":0.89},{"burst":9680,"height":1.05},{"burst":9681,"height":0.96},{"burst":9682,"height":0.83},{"burst":9683,"height":0.67},{"burst":9684,"height":0.72},{"burst":9685,"height":1.21},{"burst":9686,"height":1.26},{"burst":9687,"height":1.19},
{"burst":9688,"height":1.05},{"burst":9689,"height":0.97},{"burst":9690,"height":0.9},{"burst":9691,"height":0.87},{"burst":9692,"height":0.81},{"burst":9693,"height":0.76},{"burst":9694,"height":0.72},{"burst":9695,"height":0.69},{"burst":9696,"height":0.58},{"burst":9697,"height":0.54},{"burst":9698,"height":0.49},{"burst":9699,"height":0.53},{"burst":9700,"height":0.67},{"burst":9701,"height":0.78},{"burst":9702,"height":0.85},{"burst":9703,"height":0.9},{"burst":9704,"height":1.08},{"burst":9705,"height":1.1},{"burst":9706,"height":0.8},{"burst":9707,"height":0.65},{"burst":9708,"height":0.69},{"burst":9709,"height":0.83},{"burst":9710,"height":1.03},{"burst":9711,"height":1.01},{"burst":9712,"height":0.85},{"burst":9713,"height":0.72},{"burst":9714,"height":0.63},{"burst":9715,"height":0.6},{"burst":9716,"height":0.62},{"burst":9717,"height":0.56},{"burst":9718,"height":0.58},{"burst":9719,"height":0.51},{"burst":9720,"height":0.54},{"burst":9721,"height":0.56},{"burst":9722,"height":0.56},{"burst":9723,"height":0.76},{"burst":9724,"height":0.8},{"burst":9725,"height":0.74},{"burst":9726,"height":0.72},{"burst":9727,"height":0.67},{"burst":9728,"height":1.06},{"burst":9729,"height":1.26},{"burst":9730,"height":1.26},{"burst":9731,"height":1.28},{"burst":9732,"height":1.26},{"burst":9733,"height":1.41},{"burst":9734,"height":1.6},{"burst":9735,"height":1.82},{"burst":9736,"height":1.73},{"burst":9737,"height":1.69},{"burst":9738,"height":1.6},{"burst":9739,"height":1.46},{"burst":9740,"height":1.26},{"burst":9741,"height":1.19},{"burst":9742,"height":1.12},{"burst":9743,"height":1.08},{"burst":9744,"height":0.97},{"burst":9745,"height":1.01},{"burst":9746,"height":1.24},{"burst":9747,"height":1.37},{"burst":9748,"height":1.37},{"burst":9749,"height":1.33},{"burst":9751,"height":1.26},{"burst":9752,"height":1.05},{"burst":9753,"height":0.94},{"burst":9754,"height":0.87},{"burst":9755,"height":0.81},{"burst":9756,"height":0.72},{"burst":9757,"height":0.74},{"burst":9758,"height":0.8},{"burst":9760,"height":0.87},{"burst":9761,"height":0.92},{"burst":9763,"height":1.03}
]
},
"layer": [
{
"data": {"name": "calculated"},
"mark": {"type": "line", "strokeWidth": 1.6, "clip": true},
"encoding": {
"x": {"field": "burst", "type": "quantitative", "scale": {"domain": [9180, 9766], "nice": false, "zero": false}, "axis": {"values": [9180,9230,9280,9330,9380,9430,9480,9530,9580,9630,9680,9730], "format": "d", "title": "burst number", "labelFlush": false, "labelOverlap": false}},
"y": {"field": "height", "type": "quantitative", "scale": {"domain": [0, 3.33], "nice": false}, "axis": {"values": [0,0.5,1,1.5,2,2.5,3], "format": "~g", "title": "Wave Heigth (m)", "labelFlush": false, "labelOverlap": false}},
"color": {"datum": "Calculated Wave Heights in 1a", "type": "nominal",
"scale": {"domain": ["Calculated Wave Heights in 1a", "Measured Wave Heights in 1a"], "range": ["#0000ff", "#000000"]},
"legend": {"title": null, "orient": "none", "legendX": 540, "legendY": 10, "direction": "vertical",
"strokeColor": "#000000", "fillColor": "#ffffff", "padding": 7, "rowPadding": 11, "clipHeight": 22,
"labelFont": "DejaVu Sans", "labelFontSize": 22, "labelColor": "#000000", "labelOffset": 4, "labelLimit": 600,
"symbolSize": 3600,
"encode": {
"symbols": {"update": {
"x": {"value": 32},
"shape": {"signal": "datum.value == 'Calculated Wave Heights in 1a' ? 'M-1,0L1,0' : 'circle'"},
"size": {"signal": "datum.value == 'Calculated Wave Heights in 1a' ? 3600 : 16"},
"fill": {"signal": "datum.value == 'Calculated Wave Heights in 1a' ? 'transparent' : '#000000'"},
"stroke": {"signal": "datum.value == 'Calculated Wave Heights in 1a' ? '#0000ff' : 'transparent'"},
"strokeWidth": {"value": 1.6},
"opacity": {"value": 1}
}},
"labels": {"update": {"x": {"value": 64}}}
}}
}
}
},
{
"data": {"name": "measured"},
"mark": {"type": "point", "filled": true, "size": 18, "opacity": 1, "clip": true},
"encoding": {
"x": {"field": "burst", "type": "quantitative"},
"y": {"field": "height", "type": "quantitative"},
"color": {"datum": "Measured Wave Heights in 1a", "type": "nominal"}
}
}
],
"config": {
"view": {"stroke": "#000000", "strokeWidth": 1.5},
"axis": {"grid": false, "domainColor": "#000000", "domainWidth": 1.5, "tickColor": "#000000", "tickSize": 5, "tickWidth": 1.2,
"labelFont": "DejaVu Sans", "labelFontSize": 19, "labelColor": "#000000",
"titleFont": "DejaVu Sans", "titleFontWeight": "bold", "titleFontSize": 22, "titleColor": "#000000"},
"axisX": {"labelPadding": 18, "titlePadding": 12},
"axisY": {"labelPadding": 9, "titlePadding": 14}
}
}
